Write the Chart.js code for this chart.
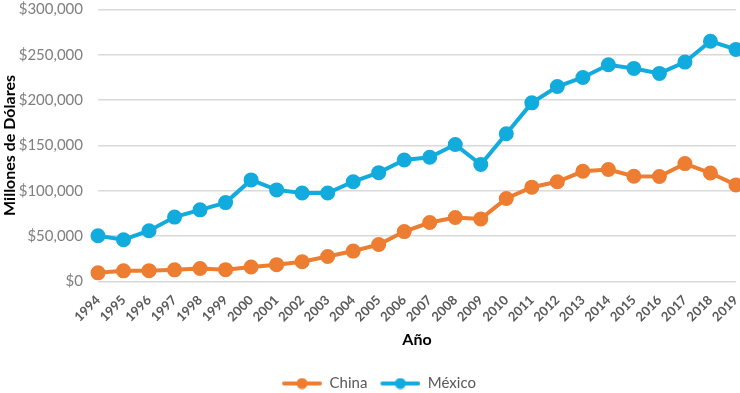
<!DOCTYPE html>
<html>
<head>
<meta charset="utf-8">
<script src="https://cdn.jsdelivr.net/npm/chart.js@4"></script>
<style>
  html, body { margin: 0; padding: 0; background: #fff; }
  #wrap { width: 740px; height: 393px; overflow: hidden; }
  #lienzo { width: 750px; height: 401px; }
</style>
</head>
<body>
<div id="wrap"><div id="lienzo"><canvas id="grafico"></canvas></div></div>
<script>
// Años y valores (millones de dólares)
const anios = ["1994","1995","1996","1997","1998","1999","2000","2001","2002","2003","2004","2005","2006",
  "2007","2008","2009","2010","2011","2012","2013","2014","2015","2016","2017","2018","2019"];
const china = [9500, 11700, 11900, 12800, 14200, 13000, 16000, 18500, 21800, 27500, 33500, 40700, 55000,
  65000, 70500, 69000, 91500, 104000, 110000, 121500, 123500, 116000, 115700, 130000, 119600, 106500];
const mexico = [50400, 46000, 56000, 71000, 79000, 87000, 112000, 101000, 97500, 97500, 110000, 120000, 134000,
  137000, 151000, 129000, 163000, 197000, 215000, 225000, 239000, 235000, 229500, 242000, 265000, 256000];

const naranja = "#ED7D31";
const azul = "#11ACDD";
const fuente = "Lato, 'Open Sans', sans-serif";

// icono de leyenda: línea con círculo (con margen a la izquierda)
function iconoLeyenda(color) {
  const c = document.createElement("canvas");
  c.width = 48; c.height = 12;
  const ctx = c.getContext("2d");
  ctx.strokeStyle = color; ctx.lineWidth = 4; ctx.lineCap = "round";
  ctx.beginPath(); ctx.moveTo(10, 6); ctx.lineTo(46, 6); ctx.stroke();
  ctx.fillStyle = color;
  ctx.beginPath(); ctx.arc(28, 6, 5.5, 0, Math.PI * 2); ctx.fill();
  return c;
}

new Chart(document.getElementById("grafico"), {
  type: "line",
  data: {
    labels: anios,
    datasets: [
      { label: "China", data: china, borderColor: naranja, backgroundColor: naranja,
        borderWidth: 4, pointRadius: 5.5, pointStyle: "circle", tension: 0 },
      { label: "México", data: mexico, borderColor: azul, backgroundColor: azul,
        borderWidth: 4, pointRadius: 5.5, pointStyle: "circle", tension: 0 }
    ]
  },
  options: {
    responsive: true,
    maintainAspectRatio: false,
    animation: false,
    layout: { padding: { top: 8, right: 0, left: 0, bottom: 0 } },
    plugins: {
      legend: {
        position: "bottom",
        labels: {
          usePointStyle: true,
          pointStyleWidth: 48,
          color: "#595959",
          font: { family: fuente, size: 15 },
          padding: 5,
          generateLabels: chart => chart.data.datasets.map((ds, i) => ({
            text: ds.label,
            fillStyle: ds.borderColor,
            strokeStyle: ds.borderColor,
            fontColor: "#595959",
            pointStyle: iconoLeyenda(ds.borderColor),
            datasetIndex: i,
            hidden: false
          }))
        }
      },
      tooltip: { enabled: false }
    },
    scales: {
      x: {
        offset: false,
        grid: { display: false },
        border: { display: false },
        ticks: {
          color: "#595959",
          font: { family: fuente, size: 13, weight: "bold" },
          maxRotation: 45, minRotation: 45,
          autoSkip: false
        },
        title: {
          display: true, text: "Año", color: "#000",
          font: { family: fuente, size: 16, weight: "bold" },
          padding: { top: 2, bottom: 22 }
        }
      },
      y: {
        min: 0, max: 300000,
        grid: { color: "#d9d9d9", lineWidth: 1.5, drawTicks: false },
        border: { display: false },
        afterFit: s => { s.width = 98; s.paddingTop = 0; },
        ticks: {
          stepSize: 50000,
          color: "#7f7f7f",
          padding: 15,
          font: { family: fuente, size: 15 },
          callback: v => "$" + v.toLocaleString("en-US")
        },
        title: {
          display: true, text: "Millones de Dólares", color: "#000",
          font: { family: fuente, size: 16, weight: "bold" },
          padding: { top: 0, bottom: 0 }
        }
      }
    }
  }
});
</script>
</body>
</html>
